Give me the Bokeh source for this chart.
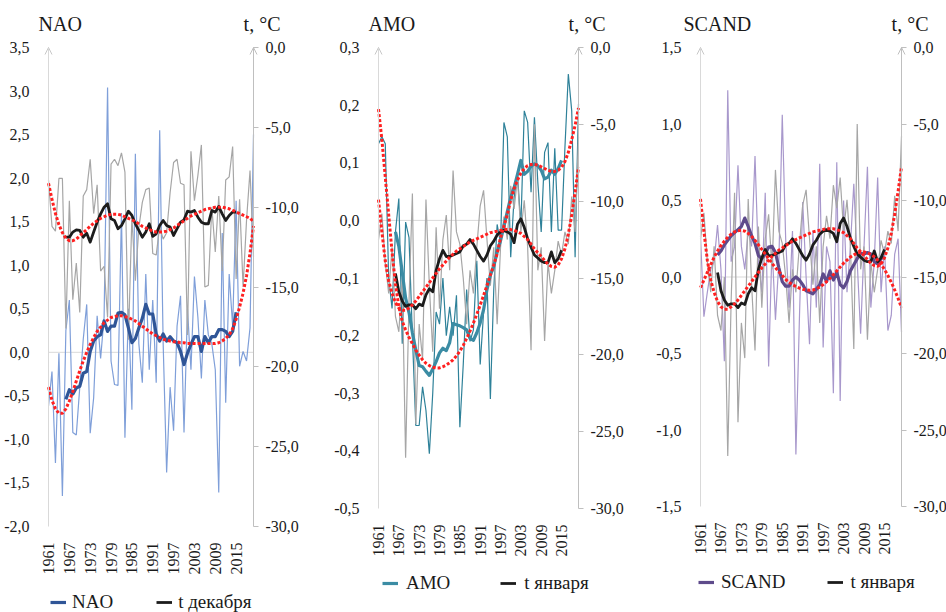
import math
from bokeh.plotting import figure
from bokeh.models import (Range1d, LinearAxis, FixedTicker, CustomJSTickFormatter,
                          Label, Legend, LegendItem, Arrow, OpenHead, ColumnDataSource)
from bokeh.layouts import row
from bokeh.embed import file_html
from bokeh.resources import INLINE
from bokeh.core.properties import value

FONT = "Liberation Serif"
TEXT = "#1a1a1a"
RED = "#ff2020"

# ---------------- data ----------------
years = list(range(1961, 2021))
ma_years = list(range(1966, 2016))
x_ticks = [1961, 1967, 1973, 1979, 1985, 1991, 1997, 2003, 2009, 2015]
t_ticks = [-30, -25, -20, -15, -10, -5, 0]
nao_ticks = [-2.0, -1.5, -1.0, -0.5, 0.0, 0.5, 1.0, 1.5, 2.0, 2.5, 3.0, 3.5]
amo_ticks = [-0.5, -0.4, -0.3, -0.2, -0.1, 0.0, 0.1, 0.2, 0.3]
scand_ticks = [-1.5, -1.0, -0.5, 0.0, 0.5, 1.0, 1.5]

nao = [-0.62, -0.22, -1.27, -0.01, -1.65, 0.25, 0.60, -0.92, -0.95, -0.40,
       0.15, 0.55, -0.93, -0.52, 0.42, -0.07, 0.40, 3.04, -0.10, -0.37,
       -0.38, 1.60, -0.98, 0.50, -0.66, 2.28, 0.10, -0.35, 0.90, -0.20,
       0.60, -0.35, 2.55, 0.10, -1.38, -0.40, -0.90, 0.30, 0.65, -0.92,
       0.50, -0.20, 0.87, 0.40, -0.30, 0.60, 0.20, 0.10, -0.20, -1.61,
       1.37, -0.58, 0.90, 0.30, 1.74, -0.16, 0.01, -0.10, 0.28, 2.50]
nao_ma = [-0.54, -0.43, -0.48, -0.41, -0.39, -0.24, -0.22, 0.01, 0.13, 0.18,
          0.20, 0.36, 0.24, 0.30, 0.30, 0.45, 0.46, 0.43, 0.28, 0.11,
          0.16, 0.28, 0.39, 0.55, 0.44, 0.44, 0.21, 0.13, 0.21, 0.13,
          0.18, 0.13, 0.11, 0.01, -0.14, -0.01, 0.09, 0.18, 0.18, 0.01,
          0.18, 0.11, 0.18, 0.18, 0.26, 0.26, 0.24, 0.18, 0.24, 0.46]
nao_trend = [-0.40, -0.55, -0.65, -0.70, -0.70, -0.65, -0.56, -0.45, -0.33, -0.21,
             -0.10, 0.00, 0.09, 0.17, 0.24, 0.29, 0.34, 0.37, 0.40, 0.41,
             0.42, 0.42, 0.41, 0.40, 0.38, 0.36, 0.33, 0.30, 0.27, 0.24,
             0.21, 0.19, 0.17, 0.15, 0.14, 0.13, 0.12, 0.12, 0.11, 0.11,
             0.10, 0.10, 0.10, 0.10, 0.10, 0.10, 0.10, 0.10, 0.10, 0.11,
             0.13, 0.16, 0.20, 0.27, 0.38, 0.52, 0.68, 0.88, 1.14, 1.45]

t_dec = [-8.3, -11.2, -11.5, -8.2, -8.2, -17.6, -9.6, -15.8, -13.5, -16.6,
         -9.3, -8.9, -7.0, -10.4, -8.6, -14.0, -13.7, -16.9, -7.3, -7.0,
         -7.4, -6.6, -7.8, -18.3, -10.6, -14.6, -11.3, -9.7, -8.9, -8.8,
         -12.9, -13.0, -11.2, -12.0, -11.6, -9.1, -7.2, -7.0, -8.5, -8.6,
         -18.0, -6.5, -9.6, -8.0, -6.1, -15.0, -14.9, -10.0, -12.8, -9.3,
         -14.0, -8.3, -8.1, -6.2, -14.5, -9.5, -15.0, -10.8, -7.7, -13.1]
t_dec_ma = [-11.88, -11.88, -11.56, -11.42, -11.46, -11.88, -11.63, -12.19, -11.56, -10.94,
            -10.42, -10.00, -9.79, -10.73, -10.83, -11.35, -11.15, -10.73, -10.25, -10.52,
            -11.04, -11.46, -11.88, -11.56, -11.04, -11.83, -11.67, -11.15, -10.83, -11.15,
            -11.25, -11.77, -11.35, -10.94, -10.79, -10.25, -10.31, -10.21, -10.63, -10.94,
            -11.04, -11.04, -10.21, -10.31, -9.96, -10.42, -10.83, -10.52, -10.31, -10.31]
t_dec_trend = [-8.5, -9.5, -10.4, -11.1, -11.6, -11.95, -12.1, -12.1, -12.0, -11.8,
               -11.6, -11.4, -11.2, -11.0, -10.85, -10.7, -10.6, -10.5, -10.45, -10.45,
               -10.45, -10.5, -10.6, -10.7, -10.8, -10.9, -11.05, -11.2, -11.3, -11.4,
               -11.5, -11.55, -11.55, -11.55, -11.5, -11.4, -11.3, -11.15, -11.0, -10.85,
               -10.7, -10.55, -10.45, -10.35, -10.25, -10.15, -10.1, -10.05, -10.0, -10.0,
               -10.0, -10.05, -10.1, -10.2, -10.3, -10.4, -10.5, -10.6, -10.7, -10.9]

amo = [0.133, 0.145, 0.133, -0.10, -0.153, -0.02, 0.038, -0.214, -0.003, -0.03,
       -0.20, -0.356, -0.356, -0.289, -0.33, -0.405, -0.30, -0.159, -0.18, -0.10,
       -0.20, -0.15, -0.20, -0.13, -0.359, -0.25, -0.12, -0.21, -0.19, -0.07,
       -0.25, -0.16, -0.10, -0.31, -0.12, -0.007, -0.04, 0.17, 0.145, -0.064,
       0.04, 0.08, -0.01, 0.19, 0.17, 0.049, 0.179, 0.066, -0.02, 0.118,
       0.135, -0.02, 0.125, -0.017, -0.017, 0.127, 0.254, 0.19, -0.064, 0.202]
amo_ma = [-0.02, -0.045, -0.09, -0.135, -0.16, -0.195, -0.225, -0.252, -0.254, -0.262,
          -0.269, -0.258, -0.245, -0.23, -0.222, -0.226, -0.212, -0.179, -0.181, -0.183,
          -0.186, -0.19, -0.205, -0.208, -0.195, -0.178, -0.155, -0.12, -0.095, -0.08,
          -0.055, -0.035, -0.01, 0.015, 0.04, 0.057, 0.08, 0.104, 0.08, 0.085,
          0.094, 0.098, 0.095, 0.087, 0.072, 0.075, 0.087, 0.08, 0.09, 0.104]
amo_trend = [0.193, 0.14, 0.075, 0.01, -0.055, -0.11, -0.15, -0.175, -0.19, -0.203,
             -0.214, -0.225, -0.234, -0.242, -0.248, -0.252, -0.255, -0.256, -0.256, -0.254,
             -0.251, -0.247, -0.242, -0.235, -0.227, -0.217, -0.205, -0.192, -0.178, -0.163,
             -0.147, -0.13, -0.113, -0.095, -0.077, -0.058, -0.03, -0.01, 0.01, 0.035,
             0.055, 0.07, 0.082, 0.09, 0.095, 0.097, 0.097, 0.096, 0.093, 0.09,
             0.087, 0.085, 0.085, 0.087, 0.092, 0.102, 0.118, 0.14, 0.165, 0.195]

t_jan = [-12.5, -10.8, -14.0, -16.0, -13.0, -17.5, -18.5, -15.0, -26.7, -16.5,
         -9.5, -24.5, -18.0, -20.3, -9.9, -15.5, -19.8, -11.7, -17.0, -12.5,
         -10.9, -14.5, -8.0, -12.0, -12.8, -15.0, -18.0, -14.5, -16.0, -13.0,
         -10.3, -9.3, -12.5, -15.5, -13.0, -18.0, -13.0, -11.0, -12.5, -9.0,
         -10.5, -8.5, -12.0, -9.95, -13.0, -19.7, -5.0, -14.5, -13.0, -19.1,
         -14.0, -16.0, -14.5, -12.6, -13.5, -12.0, -12.8, -9.7, -12.0, -5.8]
t_jan_ma = [-14.7, -15.9, -16.5, -16.85, -16.75, -16.75, -17.0, -16.7, -16.8, -16.1,
            -15.7, -15.9, -14.5, -13.75, -13.2, -13.6, -13.6, -13.5, -13.4, -13.3,
            -12.9, -12.8, -12.5, -12.8, -13.2, -13.6, -13.9, -13.5, -12.9, -12.6,
            -12.2, -12.0, -11.9, -12.0, -12.15, -12.7, -11.5, -11.15, -11.7, -12.45,
            -13.0, -13.5, -13.7, -13.9, -14.0, -14.0, -13.3, -14.0, -13.75, -13.2]
t_jan_trend = [-9.9, -12.0, -13.9, -15.2, -16.0, -16.6, -16.95, -17.1, -17.1, -16.95,
               -16.75, -16.5, -16.2, -15.9, -15.6, -15.3, -15.0, -14.7, -14.4, -14.15,
               -13.9, -13.65, -13.45, -13.25, -13.1, -12.95, -12.8, -12.65, -12.55, -12.45,
               -12.35, -12.25, -12.15, -12.05, -12.0, -11.95, -11.9, -11.85, -11.85, -11.85,
               -11.9, -12.0, -12.1, -12.3, -12.5, -12.8, -13.1, -13.35, -13.6, -13.85,
               -14.1, -14.25, -14.3, -14.15, -13.75, -13.1, -12.15, -10.9, -9.4, -7.8]

scand = [0.27, -0.26, -0.10, 0.05, 0.10, 0.34, 0.05, -0.55, 1.22, 0.10,
         0.20, 0.73, 0.20, 0.05, 0.30, 0.20, 0.79, 0.10, -0.10, 0.55,
         -0.585, 0.20, -0.28, 0.10, 1.06, 0.25, -0.20, 0.30, -1.16, -0.30,
         0.49, 0.00, -0.44, 0.30, -0.20, 0.74, -0.46, 0.20, 0.10, -0.76,
         0.75, -0.81, 0.50, -0.10, 0.20, 0.61, 0.10, -0.37, 0.20, 0.72,
         -0.20, 0.10, 0.65, -0.10, 0.20, -0.35, -0.25, 0.15, 0.25, -0.36]
scand_ma = [0.145, 0.17, 0.21, 0.24, 0.27, 0.29, 0.31, 0.33, 0.385, 0.33,
            0.27, 0.22, 0.14, 0.12, 0.15, 0.195, 0.20, 0.16, 0.06, -0.03,
            -0.06, -0.06, -0.02, 0.00, -0.02, -0.05, -0.09, -0.10, -0.11, -0.08,
            -0.05, 0.02, -0.03, 0.04, -0.02, 0.03, -0.05, -0.07, -0.03, 0.04,
            0.08, 0.12, 0.155, 0.15, 0.16, 0.15, 0.10, 0.085, 0.12, 0.13]
scand_trend = [-0.07, -0.02, 0.03, 0.08, 0.13, 0.17, 0.205, 0.235, 0.26, 0.28,
               0.295, 0.303, 0.305, 0.30, 0.285, 0.265, 0.24, 0.21, 0.18, 0.15,
               0.12, 0.09, 0.06, 0.035, 0.01, -0.015, -0.035, -0.05, -0.062, -0.072,
               -0.08, -0.085, -0.087, -0.085, -0.078, -0.066, -0.05, -0.03, -0.008, 0.015,
               0.04, 0.065, 0.09, 0.11, 0.13, 0.145, 0.156, 0.162, 0.163, 0.158,
               0.148, 0.132, 0.11, 0.082, 0.05, 0.01, -0.035, -0.085, -0.14, -0.2]

FIG_H = 612
HEAD = 47          # room above the axes (inside the frame) for the titles


def comma_fmt():
    return CustomJSTickFormatter(code="return tick.toFixed(1).replace('.', ',');")


def make_panel(width, b_left, b_right, axis_h, idx_range, idx_ticks,
               idx, idx_ma, idx_trend, t, t_ma, t_trend,
               thin_color, ma_color, name, t_name,
               title_dx, leg_dx, leg_dy, leg_spacing, leg_standoff,
               r_standoff, r_tick):
    y0, y1 = idx_range
    axis_w = width - b_left - b_right
    ux = (years[-1] - years[0]) / axis_w
    foot = FIG_H - HEAD - axis_h
    u_idx = (y1 - y0) / axis_h
    u_t = 30.0 / axis_h
    p = figure(width=width, height=FIG_H, output_backend="svg", toolbar_location=None,
               title=None,
               x_range=Range1d(years[0] - b_left * ux, years[-1] + b_right * ux),
               y_range=Range1d(y0 - foot * u_idx, y1 + HEAD * u_idx),
               min_border_left=0, min_border_right=0,
               min_border_top=0, min_border_bottom=0,
               outline_line_color=None, background_fill_color="white",
               border_fill_color="white")
    p.xgrid.visible = False
    p.ygrid.visible = False
    p.extra_y_ranges = {"t": Range1d(-30 - foot * u_t, 0 + HEAD * u_t)}

    xa = p.xaxis[0]
    xa.fixed_location = y0
    xa.ticker = FixedTicker(ticks=x_ticks)
    xa.major_label_orientation = math.pi / 2
    xa.axis_line_color = None
    xa.major_tick_line_color = None
    xa.minor_tick_line_color = None
    xa.major_label_standoff = 10
    xa.major_label_text_font = FONT
    xa.major_label_text_font_size = "16px"
    xa.major_label_text_color = TEXT

    ya = p.yaxis[0]
    ya.fixed_location = years[0]
    ya.ticker = FixedTicker(ticks=idx_ticks)
    ya.formatter = comma_fmt()
    ya.bounds = (y0, y1)
    ya.axis_line_color = "#d9d9d9"
    ya.major_tick_line_color = None
    ya.minor_tick_line_color = None
    ya.major_label_standoff = 13
    ya.major_label_text_font = FONT
    ya.major_label_text_font_size = "16px"
    ya.major_label_text_color = TEXT

    ra = LinearAxis(y_range_name="t", fixed_location=years[-1],
                    ticker=FixedTicker(ticks=t_ticks), formatter=comma_fmt(),
                    bounds=(-30, 0),
                    axis_line_color="#bfbfbf", major_tick_line_color="#bfbfbf",
                    major_tick_out=r_tick, major_tick_in=0, minor_tick_line_color=None,
                    major_label_standoff=r_standoff, major_label_text_font=FONT,
                    major_label_text_font_size="16px", major_label_text_color=TEXT)
    p.add_layout(ra, "right")

    # zero line between the two axes
    p.line([years[0], years[-1]], [0, 0], line_color="#d9d9d9", line_width=1)

    p.add_layout(Arrow(end=OpenHead(size=7, line_color="#c8c8c8", line_width=1),
                       x_start=years[0], y_start=y1 - (y1 - y0) * 0.02, x_end=years[0], y_end=y1,
                       line_color="#d9d9d9", line_width=1))
    p.add_layout(Arrow(end=OpenHead(size=7, line_color="#bfbfbf", line_width=1),
                       x_start=years[-1], y_start=-0.6, x_end=years[-1], y_end=0,
                       y_range_name="t", line_color="#bfbfbf", line_width=1))

    src_idx = ColumnDataSource(dict(x=years, y=idx))
    src_t = ColumnDataSource(dict(x=years, y=t))
    src_idx_ma = ColumnDataSource(dict(x=ma_years, y=idx_ma))
    src_t_ma = ColumnDataSource(dict(x=ma_years, y=t_ma))
    src_idx_tr = ColumnDataSource(dict(x=years, y=idx_trend))
    src_t_tr = ColumnDataSource(dict(x=years, y=t_trend))

    p.line("x", "y", source=src_idx, line_color=thin_color, line_width=1.2)
    p.line("x", "y", source=src_t, y_range_name="t", line_color="#a6a6a6", line_width=1.2)
    r_ma = p.line("x", "y", source=src_idx_ma, line_color=ma_color, line_width=3.2,
                  line_join="round")
    r_tma = p.line("x", "y", source=src_t_ma, y_range_name="t", line_color="#1c1c1c",
                   line_width=2.8, line_join="round")
    p.line("x", "y", source=src_t_tr, y_range_name="t", line_color=RED, line_width=3,
           line_dash="3 2")
    p.line("x", "y", source=src_idx_tr, line_color=RED, line_width=3, line_dash="3 2")

    y_title = y1 + 24 * u_idx
    p.add_layout(Label(x=years[0], y=y_title, x_offset=title_dx, text=name, text_font=FONT,
                       text_font_size="20px", text_color=TEXT, text_baseline="middle",
                       text_align="left"))
    p.add_layout(Label(x=years[-1], y=y_title, x_offset=27, text="t, °C", text_font=FONT,
                       text_font_size="20px", text_color=TEXT, text_baseline="middle",
                       text_align="right"))

    legend = Legend(items=[LegendItem(label=value(name), renderers=[r_ma]),
                           LegendItem(label=value(t_name), renderers=[r_tma])],
                    location=(leg_dx, leg_dy), orientation="horizontal",
                    glyph_width=16, glyph_height=16, label_standoff=leg_standoff,
                    spacing=leg_spacing, padding=0, margin=0,
                    border_line_color=None, background_fill_alpha=0,
                    label_text_font=FONT, label_text_font_size="19px",
                    label_text_color=TEXT)
    p.add_layout(legend, "center")
    return p


p1 = make_panel(326, 48, 73, 479, (-2.0, 3.5), nao_ticks,
                nao, nao_ma, nao_trend, t_dec, t_dec_ma, t_dec_trend,
                "#7f9fd9", "#2f5597", "NAO", "t декабря",
                -10, 50, -1, 43, 6, 7, 5)
p2 = make_panel(320, 52, 68, 461, (-0.5, 0.3), amo_ticks,
                amo, amo_ma, amo_trend, t_jan, t_jan_ma, t_jan_trend,
                "#2e8199", "#3b8ca4", "AMO", "t января",
                -10, 56, 18, 50, 8, 7, 5)
p3 = make_panel(300, 54, 45, 459, (-1.5, 1.5), scand_ticks,
                scand, scand_ma, scand_trend, t_jan, t_jan_ma, t_jan_trend,
                "#a898cc", "#5e4b8b", "SCAND", "t января",
                -17, 52, 19, 42, 7, 7, 5)

layout = row(p1, p2, p3)

with open("out.html", "w", encoding="utf-8") as f:
    f.write(file_html(layout, INLINE))
